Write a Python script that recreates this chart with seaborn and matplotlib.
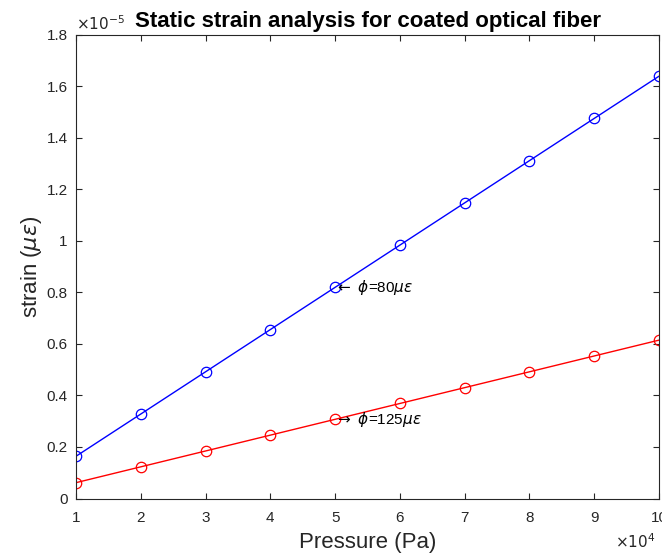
import matplotlib
matplotlib.use("Agg")
import matplotlib.pyplot as plt
import seaborn as sns
import pandas as pd

pressure = [1, 2, 3, 4, 5, 6, 7, 8, 9, 10]  # x 1e4 Pa
strain_80 = [0.164, 0.328, 0.492, 0.656, 0.82, 0.984, 1.148, 1.312, 1.476, 1.64]  # x 1e-5
strain_125 = [0.0615, 0.123, 0.1845, 0.246, 0.3075, 0.369, 0.4305, 0.492, 0.5535, 0.615]
x_ticks = [1, 2, 3, 4, 5, 6, 7, 8, 9, 10]
y_ticks = [0, 0.2, 0.4, 0.6, 0.8, 1.0, 1.2, 1.4, 1.6, 1.8]
y_tick_labels = ["0", "0.2", "0.4", "0.6", "0.8", "1", "1.2", "1.4", "1.6", "1.8"]

sns.set_style("ticks")
plt.rcParams['font.family'] = ['Liberation Sans', 'DejaVu Sans']
plt.rcParams['mathtext.fontset'] = 'dejavusans'

df = pd.concat([
    pd.DataFrame({"p": pressure, "s": strain_80, "g": "80"}),
    pd.DataFrame({"p": pressure, "s": strain_125, "g": "125"}),
])

fig = plt.figure(figsize=(6.62, 5.55), dpi=100)
ax = fig.add_axes([0.1148, 0.1018, 0.8807, 0.8352])
sns.lineplot(data=df, x="p", y="s", hue="g", palette={"80": "#0000ff", "125": "#ff0000"},
             marker="o", markersize=7.5, markerfacecolor="none", markeredgewidth=0.9,
             linewidth=1.0, ax=ax, legend=False)
for line, c in zip(ax.get_lines(), ["#0000ff", "#ff0000"]):
    line.set_markeredgecolor(c)

ax.set_xlim(1, 10)
ax.set_ylim(0, 1.8)
ax.set_xticks(x_ticks)
ax.set_xticklabels([str(v) for v in x_ticks])
ax.set_yticks(y_ticks)
ax.set_yticklabels(y_tick_labels)
gray = "#262626"
for s in ax.spines.values():
    s.set_visible(True)
    s.set_color(gray)
    s.set_linewidth(0.8)
ax.tick_params(direction="in", length=4.5, width=0.8, colors=gray, labelsize=11,
               top=True, right=True)
ax.tick_params(axis="x", pad=9)
ax.tick_params(axis="y", pad=6)

ax.set_xlabel("Pressure (Pa)", fontsize=16, color=gray, labelpad=5)
ax.set_ylabel(r"strain ($\mu\epsilon$)", fontsize=16, color=gray, labelpad=2)
ax.set_title("Static strain analysis for coated optical fiber", fontsize=16,
             fontweight="bold", color="black", pad=6)

ax.text(0.0, 1.005, r"$\times10^{-5}$", transform=ax.transAxes, fontsize=11,
        color=gray, ha="left", va="bottom")
ax.text(0.994, -0.094, r"$\times10^{4}$", transform=ax.transAxes, fontsize=11,
        color=gray, ha="right", va="center")

ax.text(5, strain_80[4], r"$\leftarrow$ $\phi$=80$\mu\epsilon$", fontsize=11,
        ha="left", va="center", color="black")
ax.text(5, strain_125[4], r"$\rightarrow$ $\phi$=125$\mu\epsilon$", fontsize=11,
        ha="left", va="center", color="black")

fig.savefig("out.png", dpi=100)
